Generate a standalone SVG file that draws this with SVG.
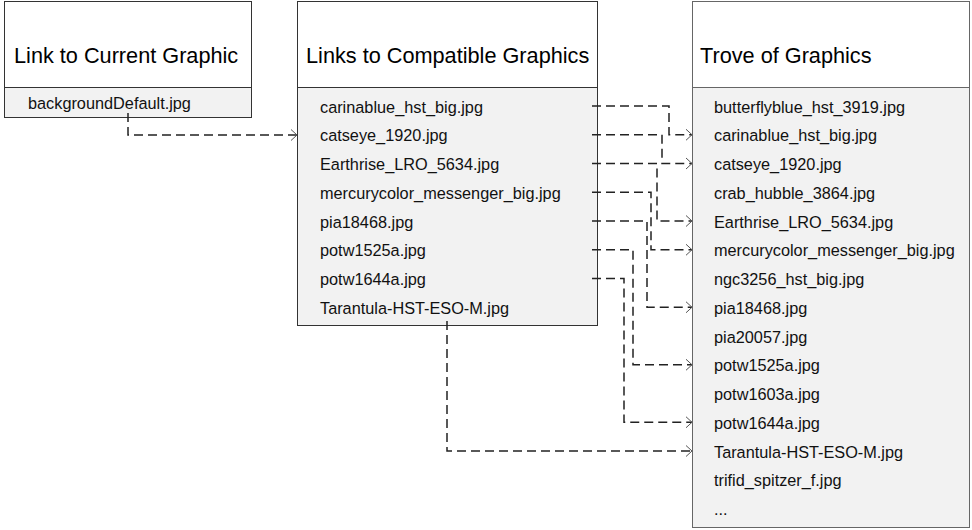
<svg xmlns="http://www.w3.org/2000/svg" width="972" height="530" viewBox="0 0 972 530">
<style>
.hdr{fill:#fff;stroke:#333;stroke-width:1}
.body{fill:#f2f2f2;stroke:#333;stroke-width:1}
.rb{stroke:#666}
.title{font-family:"Liberation Sans",Arial,sans-serif;font-size:21.7px;fill:#000}
.item{font-family:"Liberation Sans",Arial,sans-serif;font-size:16.3px;fill:#111}
.conn{fill:none;stroke:#222;stroke-width:1.5;stroke-dasharray:9 5}
</style>
<defs>
<marker id="arr" markerUnits="userSpaceOnUse" markerWidth="10" markerHeight="14" refX="7" refY="7" orient="auto" viewBox="0 0 10 14">
<path d="M1,1.5 L7,7 L1,12.5" fill="none" stroke="#555" stroke-width="1"/>
</marker>
</defs>
<rect width="972" height="530" fill="#fff"/>
<g id="current">
<rect class="hdr" x="4.5" y="1.5" width="247" height="86"/>
<rect class="body" x="4.5" y="87.5" width="247" height="30"/>
<text class="title" x="14" y="63">Link to Current Graphic</text>
<text class="item" x="28" y="108.5">backgroundDefault.jpg</text>
</g>
<g id="compatible">
<rect class="hdr" x="297.5" y="1.5" width="300" height="86"/>
<rect class="body" x="297.5" y="87.5" width="300" height="238"/>
<text class="title" x="306" y="63">Links to Compatible Graphics</text>
<text class="item" x="320" y="112.5">carinablue_hst_big.jpg</text>
<text class="item" x="320" y="141.25">catseye_1920.jpg</text>
<text class="item" x="320" y="170">Earthrise_LRO_5634.jpg</text>
<text class="item" x="320" y="198.75">mercurycolor_messenger_big.jpg</text>
<text class="item" x="320" y="227.5">pia18468.jpg</text>
<text class="item" x="320" y="256.25">potw1525a.jpg</text>
<text class="item" x="320" y="285">potw1644a.jpg</text>
<text class="item" x="320" y="313.75">Tarantula-HST-ESO-M.jpg</text>
</g>
<g id="trove">
<rect class="hdr rb" x="692.5" y="1.5" width="277" height="86"/>
<rect class="body rb" x="692.5" y="87.5" width="277" height="440"/>
<text class="title" x="700" y="63">Trove of Graphics</text>
<text class="item" x="714" y="112.5">butterflyblue_hst_3919.jpg</text>
<text class="item" x="714" y="141.25">carinablue_hst_big.jpg</text>
<text class="item" x="714" y="170">catseye_1920.jpg</text>
<text class="item" x="714" y="198.75">crab_hubble_3864.jpg</text>
<text class="item" x="714" y="227.5">Earthrise_LRO_5634.jpg</text>
<text class="item" x="714" y="256.25">mercurycolor_messenger_big.jpg</text>
<text class="item" x="714" y="285">ngc3256_hst_big.jpg</text>
<text class="item" x="714" y="313.75">pia18468.jpg</text>
<text class="item" x="714" y="342.5">pia20057.jpg</text>
<text class="item" x="714" y="371.25">potw1525a.jpg</text>
<text class="item" x="714" y="400">potw1603a.jpg</text>
<text class="item" x="714" y="428.75">potw1644a.jpg</text>
<text class="item" x="714" y="457.5">Tarantula-HST-ESO-M.jpg</text>
<text class="item" x="714" y="486.25">trifid_spitzer_f.jpg</text>
<text class="item" x="714" y="515">...</text>
</g>
<g id="connectors">
<path class="conn" marker-end="url(#arr)" d="M128,113 V135 H297"/>
<path class="conn" marker-end="url(#arr)" d="M592,106 H669 V134.75 H692"/>
<path class="conn" marker-end="url(#arr)" d="M592,134.75 H662 V163.5 H692"/>
<path class="conn" marker-end="url(#arr)" d="M592,163.5 H657 V221 H692"/>
<path class="conn" marker-end="url(#arr)" d="M592,192.25 H651 V249.75 H692"/>
<path class="conn" marker-end="url(#arr)" d="M592,221 H647 V307.25 H692"/>
<path class="conn" marker-end="url(#arr)" d="M592,249.75 H633 V364.75 H692"/>
<path class="conn" marker-end="url(#arr)" d="M592,278.5 H624 V422.25 H692"/>
<path class="conn" marker-end="url(#arr)" d="M447,321 V451 H692"/>
</g>
</svg>
